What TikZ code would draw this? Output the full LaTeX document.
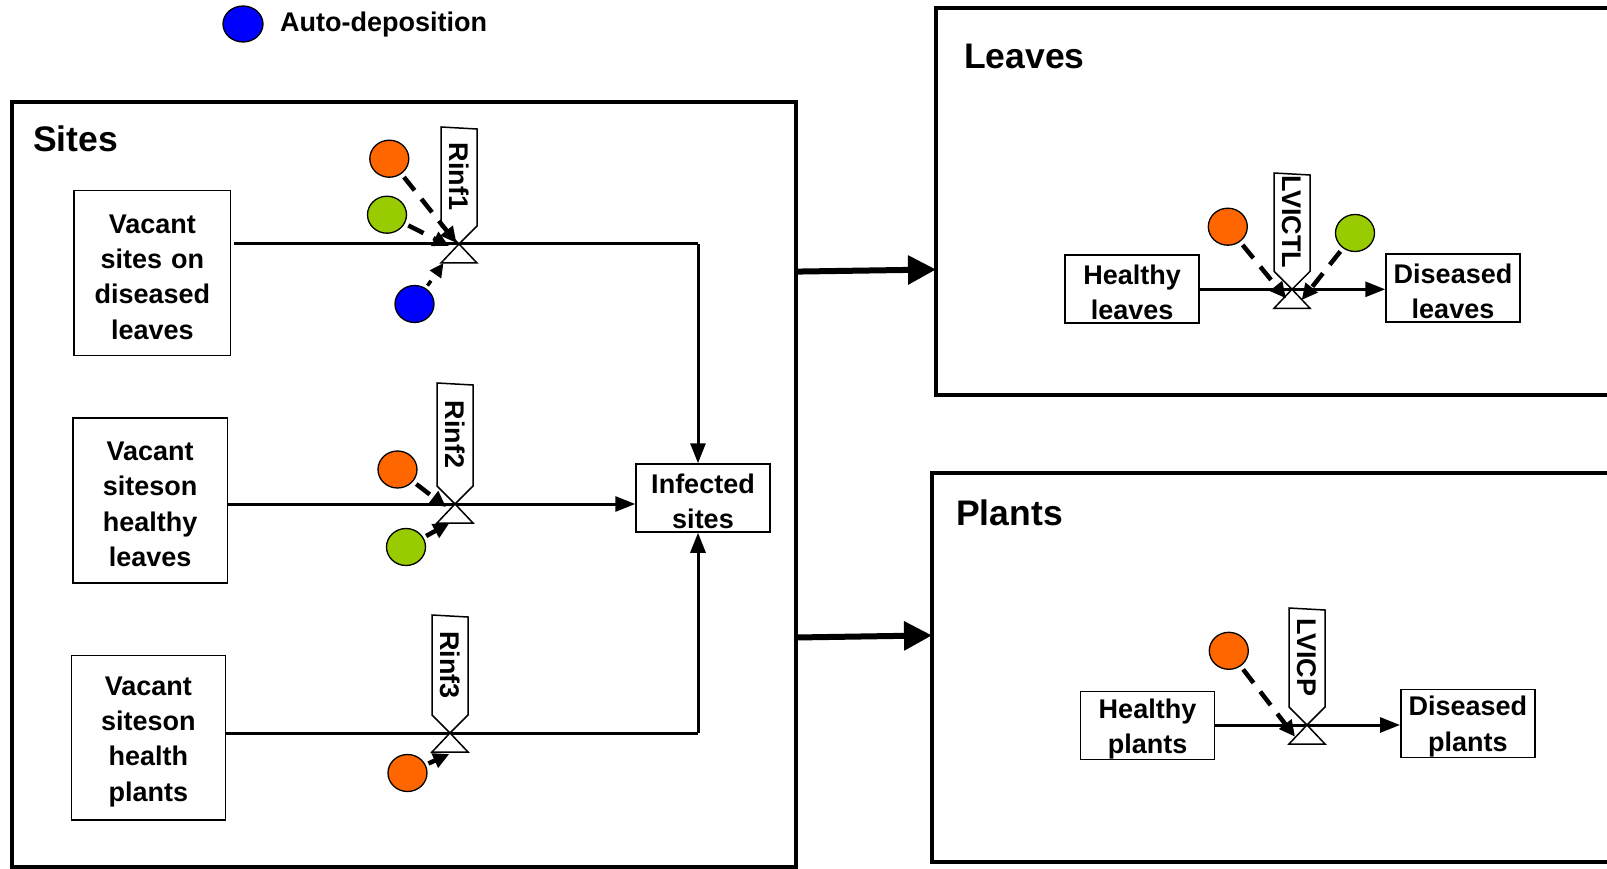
\documentclass[tikz,border=0pt]{standalone}
\usepackage{fontspec}
\setmainfont{Liberation Sans}
\usetikzlibrary{arrows.meta,shapes.geometric,calc}
\definecolor{dorange}{HTML}{FF6600}
\definecolor{dgreen}{HTML}{99CC00}
\definecolor{dblue}{HTML}{0000FF}
\newcommand\dgbody{\fontsize{27}{35.3}\selectfont\bfseries}
\newcommand\dgtitle{\fontsize{35.5}{40}\selectfont\bfseries}
\newcommand\dgvalve[5]{%
  \coordinate (#1) at (#2,#3);
  \filldraw[tagline] (#2,#3) -- (#2-18,#3-18) -- (#2-18,#4) -- (#2+18,#4+2) -- (#2+18,#3-18) -- cycle;
  \filldraw[tagline] (#2,#3) -- (#2-18,#3+19) -- (#2+18,#3+19) -- cycle;
  \node[vlabel] (#1t) at (#2,{(#4+#3-18)/2}) {#5};
}
\begin{document}
\begin{tikzpicture}[x=1pt,y=-1pt,
  box/.style={draw,line width=1.5pt,inner sep=0pt,align=center,font=\dgbody,execute at begin node={\rule{0pt}{26pt}}},
  bigbox/.style={draw,line width=4pt},
  title/.style={anchor=base west,inner sep=0pt,font=\dgtitle},
  flow/.style={line width=3pt},
  flowarrow/.style={line width=3pt,-{Triangle[length=20pt,width=15pt]}},
  bigarrow/.style={line width=6pt,-{Triangle[length=28pt,width=28pt]}},
  tagline/.style={draw=black,fill=white,line width=1.5pt,line join=miter},
  vlabel/.style={rotate=-90,inner sep=0pt,font=\dgbody},
  dot/.style={ellipse,draw,line width=1.3pt,minimum width=39pt,minimum height=37pt,inner sep=0pt},
  dasharrow/.style={line width=4.5pt,dash pattern=on 17pt off 11pt,shorten <=4pt,-{Triangle[length=16pt,width=15pt]}},
  dotarrow/.style={line width=3.5pt,dash pattern=on 6pt off 8pt,shorten <=3pt,-{Triangle[length=14pt,width=13pt]}},
  solidarrow/.style={line width=4.5pt,shorten <=3pt,-{Triangle[length=16pt,width=15pt]}}
]
\useasboundingbox (0,0) rectangle (1607,869);

% legend
\node[dot,fill=dblue,minimum height=36pt,minimum width=40pt] (leg) at (243,24) {};
\node[anchor=base west,inner sep=0pt,font=\dgbody] (legt) at (280,32) {Auto-deposition};

% containers
\draw[bigbox] (11.5,102.5) rectangle (796,867);
\draw[bigbox] (1612,8) -- (936,8) -- (936,395) -- (1612,395);
\draw[bigbox] (1612,473) -- (932,473) -- (932,862) -- (1612,862);
\node[title] (tsites) at (33,152) {Sites};
\node[title] (tleaves) at (964,69) {Leaves};
\node[title] (tplants) at (956,525) {Plants};

% stocks
\node[box,text width=156.7pt,minimum height=165pt] (b1) at (152.35,273.2) {Vacant\\sites on\\diseased\\leaves};
\node[box,text width=154.7pt,minimum height=165pt] (b2) at (150.15,500.7) {Vacant\\siteson\\healthy\\leaves};
\node[box,text width=154pt,minimum height=164.3pt] (b3) at (148.45,737.85) {Vacant\\siteson\\health\\plants};
\node[box,text width=134pt,minimum height=68pt] (inf) at (703,498) {Infected\\sites};
\node[box,text width=134pt,minimum height=68pt] (hl) at (1132.2,289.2) {Healthy\\leaves};
\node[box,text width=134pt,minimum height=68pt] (dl) at (1453,287.9) {Diseased\\leaves};
\node[box,text width=133.6pt,minimum height=67.6pt] (hp) at (1147.5,725.5) {Healthy\\plants};
\node[box,text width=134.3pt,minimum height=68pt] (dp) at (1467.9,723.3) {Diseased\\plants};

% valve centres and corners
\coordinate (v1c) at (459,244);
\coordinate (v2c) at (455,504);
\coordinate (v3c) at (450,733);
\coordinate (vlc) at (1292,289.3);
\coordinate (vpc) at (1307,725);
\coordinate (c1) at (698,244);
\coordinate (c3) at (698,733);

% flows
\draw[flow] ($(b1.east|-v1c)+(3,0)$) -- (c1);
\draw[flowarrow] (c1) -- (c1|-inf.north);
\draw[flowarrow] (b2.east|-v2c) -- (v2c-|inf.west);
\draw[flow] (b3.east|-v3c) -- (c3);
\draw[flowarrow] (c3) -- (c3|-inf.south);
\draw[flowarrow] (hl.east|-vlc) -- (vlc-|dl.west);
\draw[flowarrow] (hp.east|-vpc) -- (vpc-|dp.west);

% valves
\dgvalve{v1}{459}{244}{127}{Rinf1}
\dgvalve{v2}{455}{504}{383}{Rinf2}
\dgvalve{v3}{450}{733}{615}{Rinf3}
\dgvalve{vl}{1292}{289.3}{173}{LVICTL}
\dgvalve{vp}{1307}{725}{608}{LVICP}

% big transfer arrows
\coordinate (s1) at (796,271.6);
\coordinate (l1) at (936,269.5);
\coordinate (s2) at (796,637.5);
\coordinate (p1) at (932,635.4);
\draw[bigarrow] (s1) -- (l1);
\draw[bigarrow] (s2) -- (p1);

% influence circles
\node[dot,fill=dorange] (r1o) at (389.3,158.7) {};
\node[dot,fill=dgreen] (r1g) at (387,214.7) {};
\node[dot,fill=dblue] (r1b) at (414.5,304) {};
\node[dot,fill=dorange] (r2o) at (397.5,469.5) {};
\node[dot,fill=dgreen] (r2g) at (406,547) {};
\node[dot,fill=dorange] (r3o) at (407.5,773) {};
\node[dot,fill=dorange] (lo) at (1227.8,226.7) {};
\node[dot,fill=dgreen] (lg) at (1355,233) {};
\node[dot,fill=dorange] (po) at (1228.8,650.8) {};

\coordinate (t1o) at (456.5,243);
\coordinate (t1g) at (449,246);
\coordinate (t1b) at (443.5,263);
\coordinate (t2o) at (446,507);
\coordinate (t2g) at (449.3,523.3);
\coordinate (t3o) at (449.3,754);
\coordinate (tlo) at (1286,298.3);
\coordinate (tlg) at (1301.7,300);
\coordinate (tpo) at (1295,736.7);

\draw[dasharrow] (r1o) -- (t1o);
\draw[dasharrow] (r1g) -- (t1g);
\draw[dotarrow] (r1b) -- (t1b);
\draw[dasharrow] (r2o) -- (t2o);
\draw[solidarrow] (r2g) -- (t2g);
\draw[solidarrow] (r3o) -- (t3o);
\draw[dasharrow] (lo) -- (tlo);
\draw[dasharrow] (lg) -- (tlg);
\draw[dasharrow] (po) -- (tpo);
\end{tikzpicture}
\end{document}
